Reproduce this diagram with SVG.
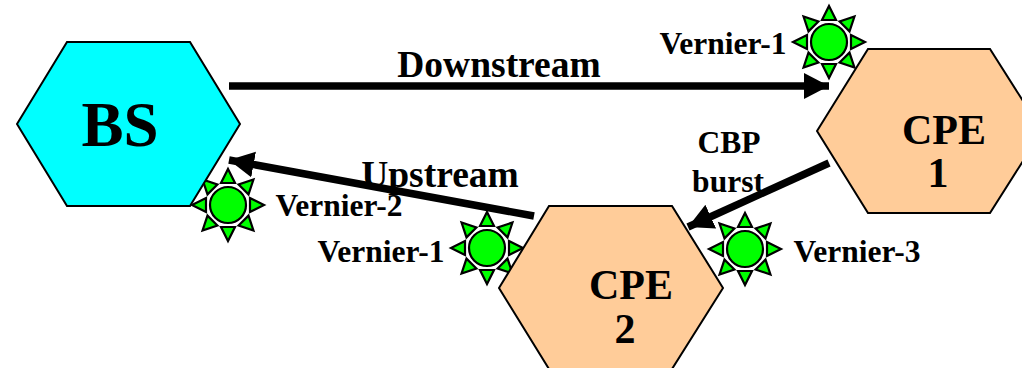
<svg xmlns="http://www.w3.org/2000/svg" width="1022" height="368" viewBox="0 0 1022 368">
<style>
.hex{stroke:#000;stroke-width:2;stroke-linejoin:miter}
.t{font-family:"Liberation Serif","Times New Roman",serif;font-weight:bold;fill:#000;text-anchor:middle}
.big{font-size:63px}
.cpe{font-size:42px}
.lab{font-size:37.5px}
.ver{font-size:31.5px}
.c{stroke:#000;stroke-width:7.5;fill:none}
.ray{fill:#00ff00;stroke:#000;stroke-width:2.2;stroke-linejoin:miter}
.disc{fill:#00ff00;stroke:#000;stroke-width:2.2}
</style>
<defs>
<marker id="a" markerUnits="userSpaceOnUse" markerWidth="28" markerHeight="28" refX="25" refY="13" orient="auto"><path d="M0 0L25 13L0 26Z" fill="#000"/></marker>
<g id="sun">
<circle class="disc" r="18"/>
<g id="r"><path class="ray" d="M-7 -22L7 -22L0 -36Z"/></g>
<use href="#r" transform="rotate(45)"/><use href="#r" transform="rotate(90)"/><use href="#r" transform="rotate(135)"/><use href="#r" transform="rotate(180)"/><use href="#r" transform="rotate(225)"/><use href="#r" transform="rotate(270)"/><use href="#r" transform="rotate(315)"/>
</g>
</defs>
<g id="sun1"><use href="#sun" x="829" y="42"/></g>
<g id="sun2"><use href="#sun" x="228" y="205"/></g>
<g id="sun3"><use href="#sun" x="487" y="248"/></g>
<g id="sun4"><use href="#sun" x="745" y="249"/></g>
<g id="bs"><path class="hex" fill="#00ffff" d="M17 124L67 42H190L240 124L190 206H67Z"/><text class="t big" x="120" y="146">BS</text></g>
<g id="cpe1"><path class="hex" fill="#ffcc99" d="M817 131L868 49H990L1042 131L990 213H868Z"/><text class="t cpe" x="944" y="144">CPE</text><text class="t cpe" x="938" y="187">1</text></g>
<g id="cpe2"><path class="hex" fill="#ffcc99" d="M499 288L549 206H672L723 288L672 369H549Z"/><text class="t cpe" x="631" y="299">CPE</text><text class="t cpe" x="625" y="343">2</text></g>
<g id="connectors">
<path class="c" d="M229 86H829" marker-end="url(#a)"/>
<path class="c" d="M534 216L229 160" marker-end="url(#a)"/>
<path class="c" d="M829 163L688 227" marker-end="url(#a)"/>
</g>
<g id="labels">
<text class="t lab" x="499" y="77">Downstream</text>
<text class="t lab" x="440" y="187">Upstream</text>
<text class="t ver" x="729" y="153">CBP</text>
<text class="t ver" x="728" y="192">burst</text>
<text class="t ver" x="723" y="54">Vernier-1</text>
<text class="t ver" x="339" y="216">Vernier-2</text>
<text class="t ver" x="381" y="262">Vernier-1</text>
<text class="t ver" x="857" y="262">Vernier-3</text>
</g>
</svg>
